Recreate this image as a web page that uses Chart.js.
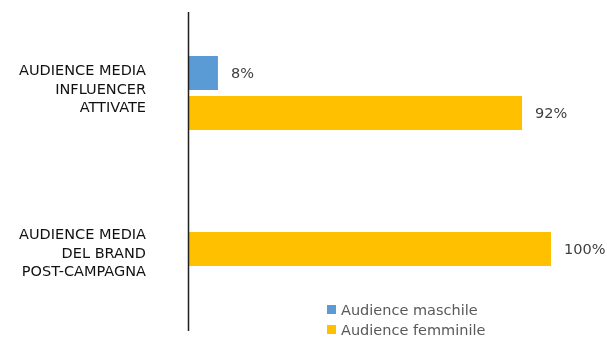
<!DOCTYPE html>
<html>
<head>
<meta charset="utf-8">
<script src="https://cdn.jsdelivr.net/npm/chart.js@4"></script>
<style>
  body { margin: 0; background: #fff; }
  #wrap { position: relative; width: 607px; height: 339px; }
  canvas { display: block; }
  #legend { position: absolute; left: 327px; top: 300px; font-family: 'DejaVu Sans', sans-serif; font-size: 14.5px; color: #595959; }
  #legend div { height: 20px; line-height: 20px; white-space: nowrap; }
  #legend span { display: inline-block; width: 9px; height: 9px; margin-right: 5px; vertical-align: 1px; }
</style>
</head>
<body>
<div id="wrap">
  <canvas id="chart" width="607" height="339"></canvas>
  <div id="legend"></div>
</div>
<script>
// categorie e valori (%)
const categories = [
    ['AUDIENCE MEDIA', 'INFLUENCER', 'ATTIVATE'],
    ['AUDIENCE MEDIA', 'DEL BRAND', 'POST-CAMPAGNA']
];
const seriesNames = ['Audience maschile', 'Audience femminile'];
const maleValues = [8, 0];
const femaleValues = [92, 100];
const colors = ['#5B9BD5', '#FFC000'];

// etichette dei valori a destra delle barre
const valueLabels = {
    id: 'valueLabels',
    afterDatasetsDraw(chart) {
        const ctx = chart.ctx;
        ctx.save();
        ctx.font = '14.5px "DejaVu Sans", sans-serif';
        ctx.fillStyle = '#404040';
        ctx.textBaseline = 'middle';
        ctx.textAlign = 'left';
        chart.data.datasets.forEach((ds, i) => {
            chart.getDatasetMeta(i).data.forEach((bar, j) => {
                if (!ds.data[j]) return;
                ctx.fillText(ds.data[j] + '%', bar.x + 13, bar.y + 1);
            });
        });
        ctx.restore();
    }
};

// linea dell'asse verticale (più lunga dell'area del grafico, come in Excel)
const axisLine = {
    id: 'axisLine',
    afterDraw(chart) {
        const ctx = chart.ctx;
        const x = chart.scales.x.getPixelForValue(0);
        ctx.save();
        ctx.strokeStyle = '#1f1f1f';
        ctx.lineWidth = 1.5;
        ctx.beginPath();
        ctx.moveTo(x - 0.5, chart.chartArea.top - 13);
        ctx.lineTo(x - 0.5, chart.chartArea.bottom + 34);
        ctx.stroke();
        ctx.restore();
    }
};

const chart = new Chart(document.getElementById('chart'), {
    type: 'bar',
    data: {
        labels: categories,
        datasets: [
            { label: seriesNames[0], data: maleValues, backgroundColor: colors[0] },
            { label: seriesNames[1], data: femaleValues, backgroundColor: colors[1] }
        ]
    },
    options: {
        indexAxis: 'y',
        responsive: false,
        animation: false,
        categoryPercentage: 80 / 136,
        barPercentage: 0.85,
        layout: { padding: { top: 25, bottom: 42, right: 56, left: 0 } },
        plugins: {
            legend: { display: false },
            tooltip: { enabled: false }
        },
        scales: {
            x: { display: false, min: 0, max: 100 },
            y: {
                grid: { display: false, drawTicks: true, tickLength: 43 },
                border: { display: false },
                ticks: {
                    color: '#111',
                    font: { family: 'DejaVu Sans', size: 14.5, lineHeight: 1.28 },
                    padding: 0,
                    labelOffset: -3,
                    // in Excel la seconda etichetta sta più in basso della sua barra
                    callback(value, index) {
                        const lbl = this.getLabelForValue(value);
                        return index === 1 ? ['', '', ''].concat(categories[1]) : categories[index];
                    }
                },
                afterFit(scale) {
                    scale.width = 189;
                    scale.paddingTop = 0;
                    scale.paddingBottom = 0;
                }
            }
        }
    },
    plugins: [valueLabels, axisLine]
});

// legenda in colonna
document.getElementById('legend').innerHTML = chart.data.datasets.map(ds =>
    `<div><span style="background:${ds.backgroundColor}"></span>${ds.label}</div>`
).join('');
</script>
</body>
</html>
